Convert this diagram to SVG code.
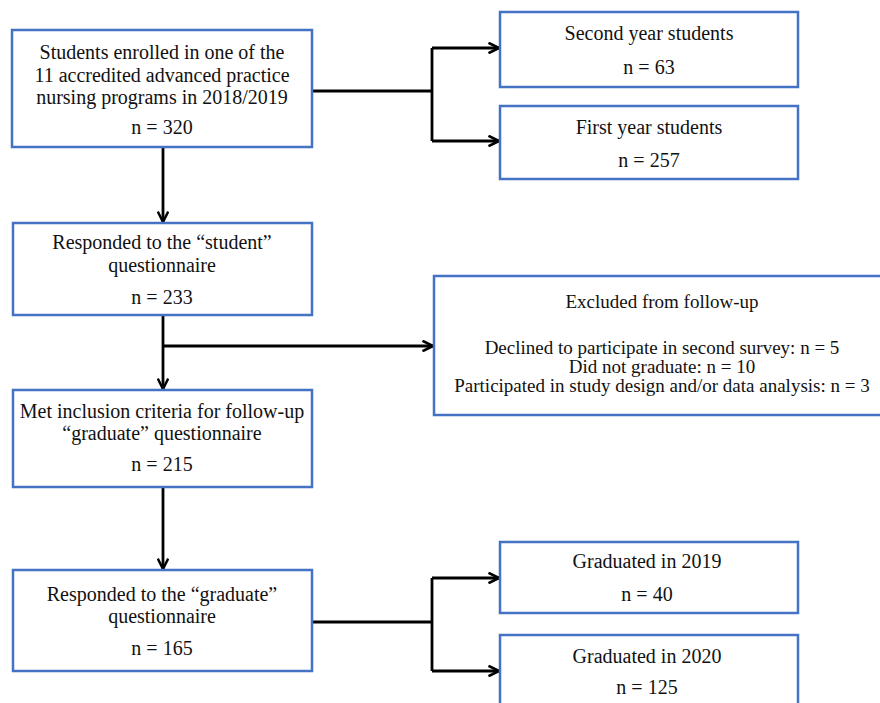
<svg xmlns="http://www.w3.org/2000/svg" width="880" height="703" viewBox="0 0 880 703">
<defs>
<style>
.box{fill:#fff;stroke:#4472C4;stroke-width:2.5}
.t{font-family:"Liberation Serif","Times New Roman",serif;font-size:20px;fill:#111;text-anchor:middle}
.s{font-size:19px}
.c{fill:none;stroke:#000;stroke-width:2.8}
.a{marker-end:url(#ah)}
</style>
<marker id="ah" viewBox="0 0 12 12" refX="11" refY="6" markerWidth="4.5" markerHeight="4.5" orient="auto" markerUnits="strokeWidth">
<path d="M1,1 L11,6 L1,11" fill="none" stroke="#000" stroke-width="2.4"/>
</marker>
</defs>
<rect width="880" height="703" fill="#fff"/>
<g id="connectors">
<path class="c" d="M312,91 H432"/>
<path class="c" d="M432,48 V141"/>
<path class="c a" d="M432,48 H499"/>
<path class="c a" d="M432,141 H499"/>
<path class="c a" d="M163,147 V222"/>
<path class="c a" d="M163,315 V389"/>
<path class="c a" d="M163,346 H433"/>
<path class="c a" d="M163,487 V569"/>
<path class="c" d="M312,622 H432"/>
<path class="c" d="M432,578 V671"/>
<path class="c a" d="M432,578 H499"/>
<path class="c a" d="M432,671 H499"/>
</g>
<g id="n1">
<rect class="box" x="12" y="30" width="300" height="117"/>
<text class="t" x="162" y="59">Students enrolled in one of the</text>
<text class="t" x="162" y="82">11 accredited advanced practice</text>
<text class="t" x="162" y="104">nursing programs in 2018/2019</text>
<text class="t" x="162" y="134">n = 320</text>
</g>
<g id="n2">
<rect class="box" x="500" y="12" width="298" height="75"/>
<text class="t" x="649" y="40">Second year students</text>
<text class="t" x="649" y="74">n = 63</text>
</g>
<g id="n3">
<rect class="box" x="500" y="106" width="298" height="73"/>
<text class="t" x="649" y="134">First year students</text>
<text class="t" x="649" y="167">n = 257</text>
</g>
<g id="n4">
<rect class="box" x="13" y="223" width="299" height="92"/>
<text class="t" x="162" y="249">Responded to the “student”</text>
<text class="t" x="162" y="272">questionnaire</text>
<text class="t" x="162" y="304">n = 233</text>
</g>
<g id="n5">
<rect class="box" x="434" y="276" width="450" height="139"/>
<text class="t s" x="662" y="308">Excluded from follow-up</text>
<text class="t s" x="662" y="354">Declined to participate in second survey: n = 5</text>
<text class="t s" x="662" y="373">Did not graduate: n = 10</text>
<text class="t s" x="662" y="392">Participated in study design and/or data analysis: n = 3</text>
</g>
<g id="n6">
<rect class="box" x="13" y="390" width="299" height="97"/>
<text class="t" x="162" y="418">Met inclusion criteria for follow-up</text>
<text class="t" x="162" y="440">“graduate” questionnaire</text>
<text class="t" x="162" y="471">n = 215</text>
</g>
<g id="n7">
<rect class="box" x="13" y="570" width="299" height="101"/>
<text class="t" x="162" y="601">Responded to the “graduate”</text>
<text class="t" x="162" y="623">questionnaire</text>
<text class="t" x="162" y="655">n = 165</text>
</g>
<g id="n8">
<rect class="box" x="500" y="542" width="298" height="71"/>
<text class="t" x="647" y="568">Graduated in 2019</text>
<text class="t" x="647" y="601">n = 40</text>
</g>
<g id="n9">
<rect class="box" x="500" y="635" width="298" height="80"/>
<text class="t" x="647" y="663">Graduated in 2020</text>
<text class="t" x="647" y="694">n = 125</text>
</g>
</svg>
